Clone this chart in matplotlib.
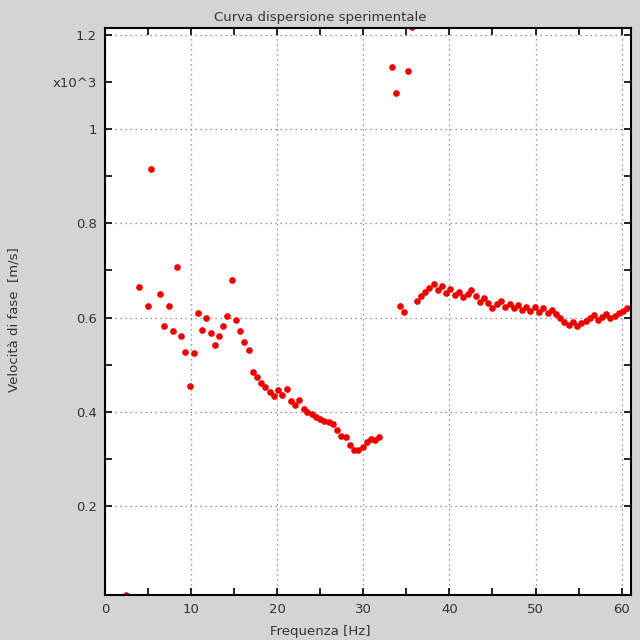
import matplotlib
matplotlib.use("Agg")
import matplotlib.pyplot as plt

# experimental dispersion curve: frequency [Hz] and phase velocity [m/s]
freq = [2.48, 4.0, 4.95, 5.38, 6.43, 6.9, 7.4, 7.9, 8.37, 8.87, 9.34, 9.84,
        10.35, 10.8, 11.3, 11.78, 12.28, 12.75, 13.25, 13.7, 14.2, 14.7,
        15.2, 15.7, 16.2, 16.7, 17.16, 17.67, 18.17, 18.64, 19.14, 19.6,
        20.1, 20.58, 21.08, 21.55, 22.05, 22.55, 23.06, 23.5, 24.0, 24.5,
        25.0, 25.46, 25.96, 26.47, 26.93, 27.44, 27.94, 28.44, 28.9, 29.4,
        29.92, 30.4, 30.9, 31.4, 31.86, 33.3, 33.8, 34.26, 34.77, 35.2,
        35.7, 36.2, 36.7, 37.2, 37.67, 38.17, 38.64, 39.14, 39.6, 40.1,
        40.6, 41.08, 41.58, 42.1, 42.56, 43.06, 43.5, 44.0, 44.5, 45.0,
        45.5, 45.97, 46.47, 46.98, 47.44, 47.94, 48.44, 48.9, 49.4, 49.9,
        50.38, 50.88, 51.4, 51.86, 52.36, 52.86, 53.33, 53.84, 54.34, 54.8,
        55.3, 55.8, 56.28, 56.8, 57.24, 57.74, 58.2, 58.7, 59.2, 59.7,
        60.15, 60.65]
vel = [10, 665, 624, 916, 649, 582, 624, 571, 707, 561, 527, 454,
       524, 610, 574, 599, 567, 541, 561, 582, 603, 680,
       595, 571, 549, 531, 485, 473, 461, 452, 442, 433,
       445, 436, 447, 422, 415, 425, 405, 399, 394, 389,
       385, 381, 377, 374, 361, 349, 347, 328, 319, 318,
       324, 335, 342, 340, 345, 1132, 1077, 624, 611, 1124,
       1218, 636, 646, 654, 663, 671, 658, 666, 652, 660,
       647, 655, 643, 651, 658, 646, 634, 642, 630, 620,
       629, 635, 623, 629, 620, 627, 617, 623, 614, 622,
       612, 620, 610, 616, 607, 599, 591, 584, 590, 582,
       588, 593, 598, 605, 595, 602, 607, 599, 604, 609,
       614, 620]

y_major = [200, 400, 600, 800, 1000, 1200]
y_major_labels = ["0.2", "0.4", "0.6", "0.8", "1", "1.2"]
y_minor = [300, 500, 700, 900, 1100]
y_minor_labels = ["", "", "", "", "x10^3"]
x_major = [0, 10, 20, 30, 40, 50, 60]
x_minor = [5, 15, 25, 35, 45, 55]

txt = "#333333"
fs = 9.5
fig = plt.figure(figsize=(6.4, 6.4), dpi=100, facecolor="#d4d4d4")
ax = fig.add_axes([0.164, 0.0703, 0.8215, 0.8855])
ax.set_facecolor("white")

ax.plot(freq, vel, "o", color="#ee0000", markersize=4.8, markeredgewidth=0)

ax.set_xlim(0, 61.05)
ax.set_ylim(10, 1215)

ax.set_xticks(x_major)
ax.set_xticks(x_minor, minor=True)
ax.set_yticks(y_major, labels=y_major_labels)
ax.set_yticks(y_minor, labels=y_minor_labels, minor=True)

ax.grid(True, which="major", color="#777777", linestyle=(0, (1, 3)), linewidth=0.9)
ax.tick_params(which="both", direction="in", length=5, width=1.2,
               top=True, right=True, colors="black", labelcolor=txt,
               labelsize=fs, pad=6)
for s in ax.spines.values():
    s.set_linewidth(1.5)

fig.text(0.5, 0.973, "Curva dispersione sperimentale", ha="center", va="center",
         fontsize=fs, color=txt)
fig.text(0.5, 0.014, "Frequenza [Hz]", ha="center", va="center",
         fontsize=fs, color=txt)
fig.text(0.022, 0.5, "Velocità di fase  [m/s]", ha="center", va="center",
         rotation=90, fontsize=fs, color=txt)

fig.savefig("out.png", dpi=100, facecolor=fig.get_facecolor())
